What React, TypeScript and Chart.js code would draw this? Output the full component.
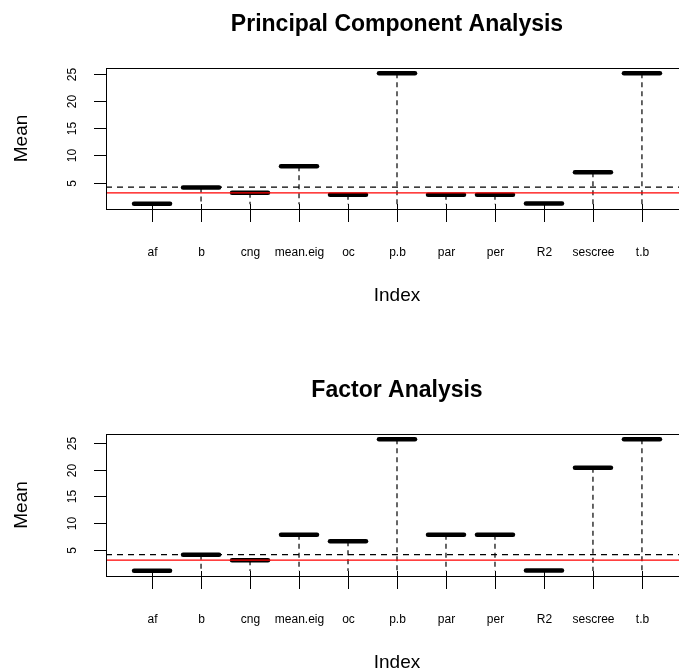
import React, { useEffect, useRef } from "react";
import { Chart, registerables } from "chart.js";

Chart.register(...registerables);

// ---- data ----
const categories = ["af", "b", "cng", "mean.eig", "oc", "p.b", "par", "per", "R2", "sescree", "t.b"];
const pcaMeans = [1.08, 4.08, 3.1, 8.0, 2.74, 25.18, 2.74, 2.74, 1.14, 6.9, 25.18];
const faMeans = [1.05, 4.06, 3.0, 7.82, 6.57, 25.74, 7.82, 7.82, 1.1, 20.4, 25.74];
const pcaDashedRef = 4.14;
const pcaRedRef = 3.1;
const faDashedRef = 4.06;
const faRedRef = 3.06;
const whiskerLow = 1.0;
const yTicks = [5, 10, 15, 20, 25];
const xRange = [0.5, 11.5];

const FONT = "'Liberation Sans', Arial, Helvetica, sans-serif";

type Panel = {
  title: string;
  means: number[];
  dashedRef: number;
  redRef: number;
  height: number;
  pad: { left: number; top: number; right: number; bottom: number };
};

const CANVAS_W = 700;

const panels: Panel[] = [
  {
    title: "Principal Component Analysis",
    means: pcaMeans,
    dashedRef: pcaDashedRef,
    redRef: pcaRedRef,
    height: 306,
    pad: { left: 106, top: 68, right: 12, bottom: 97 },
  },
  {
    title: "Factor Analysis",
    means: faMeans,
    dashedRef: faDashedRef,
    redRef: faRedRef,
    height: 366,
    pad: { left: 106, top: 128, right: 12, bottom: 96 },
  },
];

const decorPlugin = (title: string) => ({
  id: "decor",
  beforeDatasetDraw(chart: any, args: any) {
    if (args.meta && args.meta._dataset && args.meta._dataset.label === "bars") {
      chart.ctx.lineCap = "round";
    }
  },
  afterDatasetDraw(chart: any) {
    chart.ctx.lineCap = "butt";
  },
  afterDraw(chart: any) {
    const ctx = chart.ctx as CanvasRenderingContext2D;
    const { left, top, right, bottom } = chart.chartArea;
    const xs = chart.scales.x;
    const ys = chart.scales.y;
    ctx.save();
    ctx.strokeStyle = "#000";
    ctx.fillStyle = "#000";
    ctx.lineWidth = 1;
    ctx.setLineDash([]);
    // box
    ctx.strokeRect(Math.round(left) + 0.5, Math.round(top) + 0.5, right - left, bottom - top);
    // y ticks
    ctx.font = `12px ${FONT}`;
    ctx.textAlign = "center";
    ctx.textBaseline = "middle";
    yTicks.forEach((t) => {
      const y = Math.round(ys.getPixelForValue(t)) + 0.5;
      ctx.beginPath();
      ctx.moveTo(left - 12, y);
      ctx.lineTo(left, y);
      ctx.stroke();
      ctx.save();
      ctx.translate(left - 33, y);
      ctx.rotate(-Math.PI / 2);
      ctx.fillText(String(t), 0, 0);
      ctx.restore();
    });
    // x ticks + labels
    categories.forEach((c, i) => {
      const x = Math.round(xs.getPixelForValue(i + 1)) + 0.5;
      ctx.beginPath();
      ctx.moveTo(x, bottom - 5);
      ctx.lineTo(x, bottom + 13);
      ctx.stroke();
      ctx.fillText(c, x, bottom + 44);
    });
    const cx = (left + right) / 2;
    // axis titles
    ctx.font = `19px ${FONT}`;
    ctx.fillText("Index", cx, bottom + 87);
    ctx.save();
    ctx.translate(22, (top + bottom) / 2);
    ctx.rotate(-Math.PI / 2);
    ctx.fillText("Mean", 0, 0);
    ctx.restore();
    // main title
    ctx.font = `bold 23px ${FONT}`;
    ctx.fillText(title, cx, top - 43);
    ctx.restore();
  },
});

function PanelChart({ p }: { p: Panel }) {
  const ref = useRef<HTMLCanvasElement | null>(null);
  useEffect(() => {
    if (!ref.current) return;
    const lo = Math.min(...p.means);
    const hi = Math.max(...p.means);
    const padY = (hi - lo) * 0.04;
    const padX = (xRange[1] - xRange[0]) * 0.04;
    const xmin = xRange[0] - padX;
    const xmax = xRange[1] + padX;

    const whiskers: any[] = [];
    p.means.forEach((v, i) => {
      whiskers.push({ x: i + 1, y: v }, { x: i + 1, y: whiskerLow }, { x: i + 1, y: null });
    });
    const bars = p.means.map((v, i) => ({ x: i + 1, y: v }));

    const chart = new Chart(ref.current, {
      type: "scatter",
      data: {
        datasets: [
          {
            type: "line",
            label: "red",
            data: [
              { x: xmin, y: p.redRef },
              { x: xmax, y: p.redRef },
            ],
            borderColor: "#ff0000",
            borderWidth: 1.3,
            pointRadius: 0,
            showLine: true,
            order: 0,
          } as any,
          {
            type: "line",
            label: "dashedRef",
            data: [
              { x: xmin, y: p.dashedRef },
              { x: xmax, y: p.dashedRef },
            ],
            borderColor: "#000",
            borderWidth: 1.3,
            borderDash: [6, 5],
            pointRadius: 0,
            showLine: true,
            order: 1,
          } as any,
          {
            type: "scatter",
            label: "bars",
            data: bars,
            pointStyle: "line",
            pointRadius: 18,
            pointHoverRadius: 18,
            borderWidth: 4.5,
            pointBorderWidth: 4.5,
            borderColor: "#000",
            pointBorderColor: "#000",
            backgroundColor: "#000",
            clip: false,
            order: 2,
          } as any,
          {
            type: "line",
            label: "whiskers",
            data: whiskers,
            borderColor: "#000",
            borderWidth: 1.2,
            borderDash: [5, 4],
            pointRadius: 0,
            showLine: true,
            spanGaps: false,
            order: 3,
          } as any,
        ],
      },
      options: {
        animation: false,
        responsive: false,
        devicePixelRatio: 1,
        events: [],
        layout: { padding: p.pad, autoPadding: false },
        plugins: { legend: { display: false }, tooltip: { enabled: false }, title: { display: false } },
        scales: {
          x: { type: "linear", min: xmin, max: xmax, display: false },
          y: { type: "linear", min: lo - padY, max: hi + padY, display: false },
        },
      },
      plugins: [decorPlugin(p.title)],
    });
    return () => chart.destroy();
  }, [p]);
  return (
    <canvas ref={ref} width={CANVAS_W} height={p.height} style={{ display: "block", width: CANVAS_W, height: p.height }} />
  );
}

export default function App() {
  useEffect(() => {
    document.body.style.margin = "0";
    document.body.style.background = "#fff";
  }, []);
  return (
    <div style={{ width: 679, height: 672, overflow: "hidden", background: "#fff" }}>
      {panels.map((p) => (
        <PanelChart key={p.title} p={p} />
      ))}
    </div>
  );
}
